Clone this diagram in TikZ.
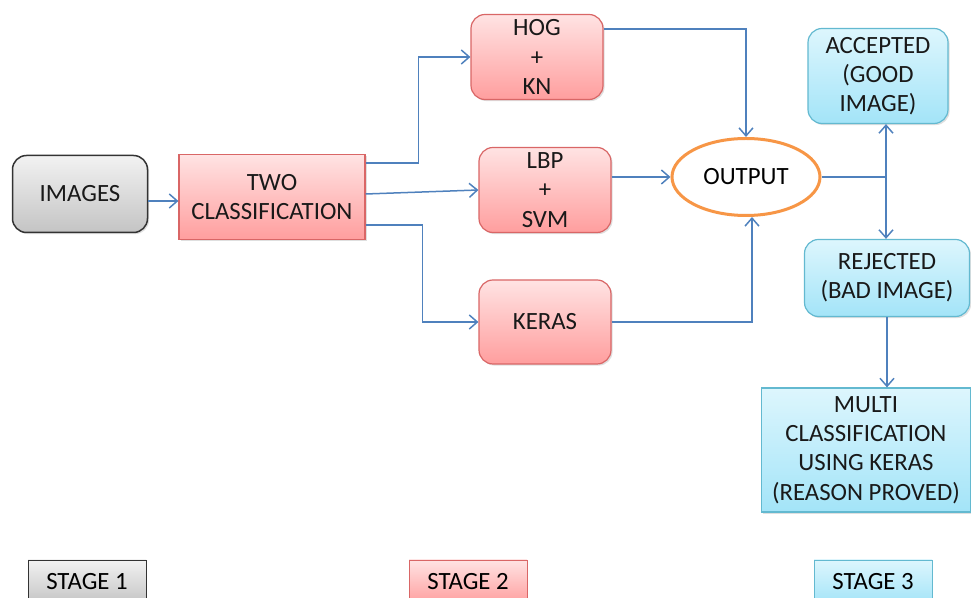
\documentclass[tikz,border=0pt]{standalone}
\usepackage{fontspec}
\setmainfont{Carlito}
\usetikzlibrary{arrows.meta,shapes.geometric,shadows,positioning}

\definecolor{linkblue}{HTML}{4F81BD}
\definecolor{pinktop}{HTML}{FFE3E3}
\definecolor{pinkbot}{HTML}{FF9E9E}
\definecolor{pinkline}{HTML}{D96666}
\definecolor{graytop}{HTML}{F2F2F2}
\definecolor{graybot}{HTML}{C4C4C4}
\definecolor{cyantop}{HTML}{DDF6FD}
\definecolor{cyanbot}{HTML}{A3E4F8}
\definecolor{cyanline}{HTML}{63B9D0}
\definecolor{ovalline}{HTML}{F79646}

\begin{document}
\begin{tikzpicture}[x=0.5pt, y=-0.5pt, >={Straight Barb[length=4pt,width=7pt]}]
        \tikzstyle{block} = [draw, align=center, inner sep=2pt, text=black!90, font=\fontsize{12.4}{14.6}\selectfont, line width=0.6pt, drop shadow={shadow xshift=0.8pt, shadow yshift=-0.8pt, opacity=0.25}]
        \tikzstyle{graybox} = [block, draw=black!80, line width=0.75pt, top color=graytop, bottom color=graybot]
        \tikzstyle{pinkbox} = [block, draw=pinkline, top color=pinktop, bottom color=pinkbot]
        \tikzstyle{cyanbox} = [block, draw=cyanline, top color=cyantop, bottom color=cyanbot]
        \tikzstyle{stage} = [draw, minimum width=59pt, minimum height=22pt, font=\fontsize{12.4}{14.6}\selectfont]
        \tikzstyle{link} = [->, draw=linkblue, line width=0.75pt]

        \useasboundingbox (0,0) rectangle (971,598);

        % stage 1
        \node [graybox, rounded corners=7pt, minimum width=67.5pt, minimum height=38.5pt] (images) at (80,194) {IMAGES};

        % stage 2
        \node [pinkbox, minimum width=93pt, minimum height=42.5pt] (two) at (272,197) {TWO\\CLASSIFICATION};
        \node [pinkbox, rounded corners=7pt, minimum width=66pt, minimum height=42.5pt] (hog) at (537,57) {HOG\\+\\KN};
        \node [pinkbox, rounded corners=7pt, minimum width=66pt, minimum height=42.5pt] (lbp) at (545,190) {LBP\\+\\SVM};
        \node [pinkbox, rounded corners=7pt, minimum width=66pt, minimum height=42pt, below of=lbp, node distance=66pt] (keras) {KERAS};
        \node [ellipse, draw=ovalline, line width=1.5pt, fill=white, minimum width=74pt, minimum height=38.5pt, font=\fontsize{12.4}{14.6}\selectfont] (output) at (746,177) {OUTPUT};

        % stage 3
        \node [cyanbox, rounded corners=7pt, minimum width=70pt, minimum height=47.5pt] (accepted) at (878,76) {ACCEPTED\\(GOOD\\IMAGE)};
        \node [cyanbox, rounded corners=7pt, minimum width=82.5pt, minimum height=38.5pt] (rejected) at (887,278) {REJECTED\\(BAD IMAGE)};
        \node [cyanbox, minimum width=104.5pt, minimum height=62pt] (multi) at (866,450) {MULTI\\CLASSIFICATION\\USING KERAS\\(REASON PROVED)};

        % legend
        \node [stage, draw=black!80, top color=graytop, bottom color=graybot] (stageone) at (87,582) {STAGE 1};
        \node [stage, draw=pinkline, top color=pinktop, bottom color=pinkbot] (stagetwo) at (468,582) {STAGE 2};
        \node [stage, draw=cyanline, top color=cyantop, bottom color=cyanbot] (stagethree) at (873,582) {STAGE 3};

        \coordinate (split) at (886,177);

        \draw [link] ([yshift=-3.5pt]images.east) -- ([yshift=-3.5pt]images.east -| two.west);
        \draw [link] ([yshift=17pt]two.east) -- ++(53,0) |- (hog.west);
        \draw [link] ([yshift=1.5pt]two.east) -- (lbp.west);
        \draw [link] ([yshift=-14pt]two.east) -- ++(57,0) |- (keras.west);
        \draw [link] ([yshift=14pt]hog.east) -| (output.north);
        \draw [link] (output.west -| lbp.east) -- (output.west);
        \draw [link] (keras.east) -| ([xshift=3pt]output.south);
        \draw [draw=linkblue, line width=0.75pt] (output.east) -- (split);
        \draw [link] (split) -- (split |- accepted.south);
        \draw [link] (split) -- (split |- rejected.north);
        \draw [link] (rejected.south) -- (rejected.south |- multi.north);
    \end{tikzpicture}
\end{document}
